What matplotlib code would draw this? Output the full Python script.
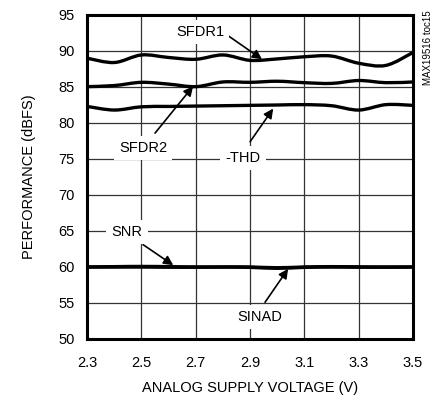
import matplotlib
matplotlib.use("Agg")
import matplotlib.pyplot as plt
from matplotlib.path import Path
from matplotlib.patches import PathPatch
from matplotlib import font_manager as fm
import numpy as np

names = {f.name for f in fm.fontManager.ttflist}
fam = 'Liberation Sans Narrow' if 'Liberation Sans Narrow' in names else 'Liberation Sans'
plt.rcParams['font.family'] = [fam, 'DejaVu Sans']

voltage = [2.3, 2.4, 2.5, 2.6, 2.7, 2.8, 2.9, 3.0, 3.1, 3.2, 3.3, 3.4, 3.5]
sfdr1 = [89.0, 88.4, 89.45, 89.1, 88.85, 89.45, 88.7, 88.9, 89.2, 89.3, 88.3, 88.0, 89.8]
sfdr2 = [85.05, 85.2, 85.65, 85.4, 85.05, 85.7, 85.65, 85.8, 85.6, 85.5, 85.9, 85.6, 85.7]
thd = [82.3, 81.8, 82.25, 82.3, 82.35, 82.4, 82.45, 82.5, 82.55, 82.4, 81.8, 82.55, 82.45]
snr = [60.0, 60.05, 60.08, 60.05, 60.0, 60.0, 60.0, 59.9, 60.0, 60.05, 60.02, 60.0, 60.0]
sinad = [60.0, 60.0, 60.0, 59.97, 59.97, 60.0, 59.95, 59.82, 59.95, 60.0, 59.97, 59.97, 60.0]

xticks = [2.3, 2.5, 2.7, 2.9, 3.1, 3.3, 3.5]
yticks = [50, 55, 60, 65, 70, 75, 80, 85, 90, 95]

fig = plt.figure(figsize=(4.38, 4.0), dpi=100)
ax = fig.add_axes([0.199, 0.1525, 0.744, 0.81])


def smooth_path(x, y):
    # Catmull-Rom style cubic Bezier through the data points
    x = np.asarray(x, float)
    y = np.asarray(y, float)
    n = len(x)
    verts = [(x[0], y[0])]
    codes = [Path.MOVETO]
    for i in range(n - 1):
        p0 = (x[max(i - 1, 0)], y[max(i - 1, 0)])
        p1 = (x[i], y[i])
        p2 = (x[i + 1], y[i + 1])
        p3 = (x[min(i + 2, n - 1)], y[min(i + 2, n - 1)])
        c1 = (p1[0] + (p2[0] - p0[0]) / 6, p1[1] + (p2[1] - p0[1]) / 6)
        c2 = (p2[0] - (p3[0] - p1[0]) / 6, p2[1] - (p3[1] - p1[1]) / 6)
        verts += [c1, c2, p2]
        codes += [Path.CURVE4] * 3
    return Path(verts, codes)


for s in [sfdr1, sfdr2, thd, snr, sinad]:
    ax.add_patch(PathPatch(smooth_path(voltage, s), fc='none', ec='black',
                           lw=2.4, zorder=3, capstyle='round', joinstyle='round'))

ax.set_xlim(2.3, 3.5)
ax.set_ylim(50, 95)
ax.set_xticks(xticks)
ax.set_xticklabels([f"{v:.1f}" for v in xticks])
ax.set_yticks(yticks)
ax.grid(True, color='#333333', lw=0.9)
ax.tick_params(length=0, labelsize=10.5)
ax.tick_params(axis='x', pad=12)
ax.tick_params(axis='y', pad=9)
for sp in ax.spines.values():
    sp.set_linewidth(2.2)
ax.set_xlabel('ANALOG SUPPLY VOLTAGE (V)', fontsize=10.5, labelpad=8)
ax.set_ylabel('PERFORMANCE (dBFS)', fontsize=10.5, labelpad=16)

bbox = dict(boxstyle='square,pad=0.35', fc='white', ec='none')
ap = dict(arrowstyle='-|>', color='black', lw=1.2, mutation_scale=14, shrinkA=0, shrinkB=0)


def lab(txt, xy, xytext, start):
    ax.text(xytext[0], xytext[1], txt, ha='center', va='center', fontsize=10.5, bbox=bbox, zorder=5)
    ax.annotate('', xy=xy, xytext=start, arrowprops=ap, zorder=4)


lab('SFDR1', (2.944, 88.85), (2.716, 92.6), (2.82, 92.1))
lab('SFDR2', (2.69, 85.1), (2.506, 76.5), (2.55, 78.6))
lab('-THD', (2.985, 82.0), (2.874, 75.1), (2.9, 77.4))
lab('SNR', (2.617, 60.25), (2.447, 64.9), (2.506, 63.1))
lab('SINAD', (3.04, 59.75), (2.937, 53.05), (2.955, 55.1))

fig.text(428/438, 1 - 48/400, 'MAX19516 toc15', rotation=90, ha='center', va='center', fontsize=7)

fig.savefig('out.png', dpi=100)
